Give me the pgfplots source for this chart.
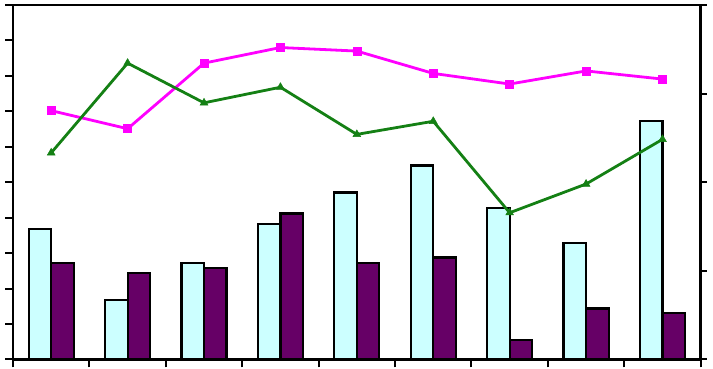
\documentclass[border=0pt]{standalone}
\usepackage{pgfplots}
\pgfplotsset{compat=1.18}
\definecolor{barcyan}{RGB}{204,255,255}
\definecolor{barpurple}{RGB}{102,0,102}
\definecolor{linepink}{RGB}{255,0,255}
\definecolor{linegreen}{RGB}{20,128,20}
\begin{document}
\begin{tikzpicture}[x=1pt,y=1pt]
\useasboundingbox (0,0) rectangle (713,369);
\begin{axis}[
  at={(13pt,9.5pt)}, anchor=south west,
  scale only axis, width=687.7pt, height=354.5pt,
  xmin=-0.5, xmax=8.5, ymin=0, ymax=10,
  xtick={-0.5,0.5,...,8.5}, xticklabels={},
  ytick={0,1,...,10}, yticklabels={},
  xtick pos=bottom, ytick pos=left,
  tick align=outside, major tick length=8pt,
  tick style={black, line width=2pt},
  axis line style={black, line width=2.8pt},
  clip=false,
]
\addplot[ybar, bar width=0.295, bar shift=-0.1475, fill=barcyan, draw=black, line width=2.2pt]
  coordinates {(0,3.69) (1,1.68) (2,2.73) (3,3.82) (4,4.71) (5,5.47) (6,4.28) (7,3.29) (8,6.73)};
\addplot[ybar, bar width=0.295, bar shift=0.1475, fill=barpurple, draw=black, line width=2.2pt]
  coordinates {(0,2.73) (1,2.44) (2,2.58) (3,4.12) (4,2.73) (5,2.88) (6,0.55) (7,1.44) (8,1.31)};
\addplot[linepink, line width=2.8pt, mark=square*, mark size=4pt, mark options={fill=linepink, draw=linepink, line width=0.5pt}]
  coordinates {(0,7.02) (1,6.51) (2,8.36) (3,8.80) (4,8.70) (5,8.07) (6,7.77) (7,8.14) (8,7.91)};
\addplot[linegreen, line width=2.8pt, mark=triangle*, mark size=4.5pt, mark options={fill=linegreen, draw=linegreen, line width=0.5pt}]
  coordinates {(0,5.83) (1,8.36) (2,7.24) (3,7.68) (4,6.35) (5,6.72) (6,4.14) (7,4.95) (8,6.21)};
\end{axis}
\begin{axis}[
  at={(13pt,9.5pt)}, anchor=south west,
  scale only axis, width=687.7pt, height=354.5pt,
  xmin=-0.5, xmax=8.5, ymin=0, ymax=4,
  hide x axis, axis y line*=right,
  ytick={0,1,2,3,4}, yticklabels={},
  tick align=outside, major tick length=6pt,
  tick style={black, line width=2pt},
  axis line style={black, line width=2.8pt, -},
]
\addplot[draw=none] coordinates {(0,0)};
\end{axis}
\end{tikzpicture}
\end{document}
